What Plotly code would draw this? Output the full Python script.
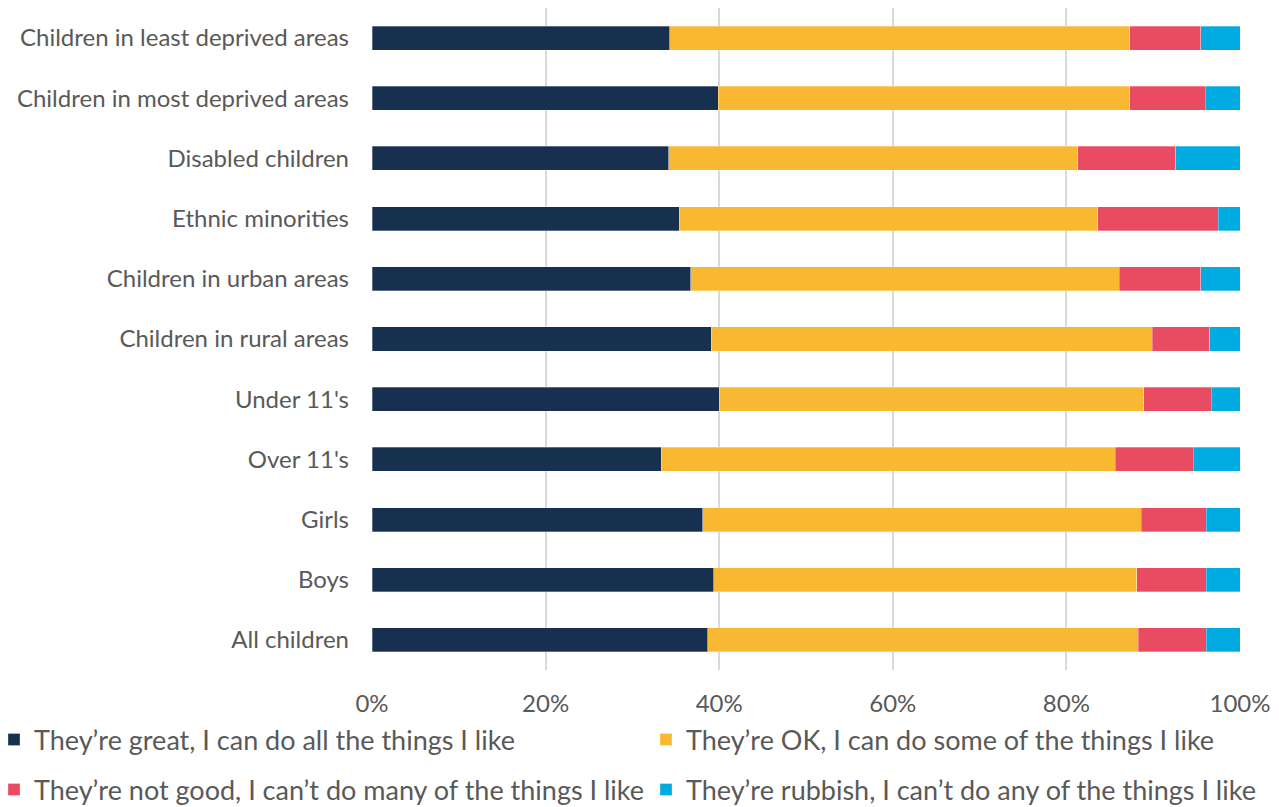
import plotly.graph_objects as go

categories = [
    "Children in least deprived areas",
    "Children in most deprived areas",
    "Disabled children",
    "Ethnic minorities",
    "Children in urban areas",
    "Children in rural areas",
    "Under 11's",
    "Over 11's",
    "Girls",
    "Boys",
    "All children",
]

great = [34.3, 39.9, 34.2, 35.4, 36.7, 39.1, 40.0, 33.3, 38.1, 39.4, 38.7]
ok = [53.0, 47.4, 47.1, 48.2, 49.4, 50.8, 48.9, 52.3, 50.5, 48.7, 49.6]
not_good = [8.2, 8.7, 11.3, 13.9, 9.4, 6.6, 7.8, 9.0, 7.5, 8.0, 7.8]
rubbish = [4.5, 4.0, 7.4, 2.5, 4.5, 3.5, 3.3, 5.4, 3.9, 3.9, 3.9]

series_names = [
    "They’re great, I can do all the things I like",
    "They’re OK, I can do some of the things I like",
    "They’re not good, I can’t do many of the things I like",
    "They’re rubbish, I can’t do any of the things I like",
]
series_values = [great, ok, not_good, rubbish]
colors = ["#17304F", "#F9B832", "#E94B63", "#00ABE1"]
legend_ids = ["legend", "legend2", "legend3", "legend4"]

FONT = "Lato, 'Open Sans', sans-serif"
W, H = 1271, 799
ML, MR, MT, MB = 364, 39, 0, 137
PW = W - ML - MR
PH = H - MT - MB

fig = go.Figure()
for name, vals, col, lg in zip(series_names, series_values, colors, legend_ids):
    fig.add_trace(go.Bar(
        y=categories, x=vals, name=name, orientation="h",
        marker=dict(color=col, line=dict(color="rgba(255,255,255,0.6)", width=0.5)),
        legend=lg,
    ))

legend_common = dict(
    orientation="h",
    xref="paper", yref="paper",
    xanchor="left", yanchor="middle",
    font=dict(family=FONT, size=27, color="#595959"),
    bgcolor="rgba(0,0,0,0)",
)

# legend box left edges and row centres, in figure pixels
col_left = [-14, 638]
row_mid = [732, 782]

def px_x(v):
    return (v - ML) / PW

def px_y(v):
    return (H - MB - v) / PH

fig.update_layout(
    barmode="stack",
    bargap=0.6,
    width=W, height=H,
    margin=dict(l=ML, r=MR, t=MT, b=MB, autoexpand=False),
    paper_bgcolor="white", plot_bgcolor="white",
    font=dict(family=FONT, size=24, color="#595959"),
    showlegend=True,
    legend=dict(x=px_x(col_left[0]), y=px_y(row_mid[0]), **legend_common),
    legend2=dict(x=px_x(col_left[1]), y=px_y(row_mid[0]), **legend_common),
    legend3=dict(x=px_x(col_left[0]), y=px_y(row_mid[1]), **legend_common),
    legend4=dict(x=px_x(col_left[1]), y=px_y(row_mid[1]), **legend_common),
)
fig.update_xaxes(
    range=[0, 100],
    tickvals=[0, 20, 40, 60, 80, 100],
    ticktext=["0%", "20%", "40%", "60%", "80%", "100%"],
    showgrid=True, gridcolor="#D9D9D9", gridwidth=2,
    zeroline=False, showline=False,
    tickfont=dict(family=FONT, size=24, color="#595959"),
    ticklabelstandoff=17,
    automargin=False,
)
fig.update_yaxes(
    autorange="reversed",
    showgrid=False, zeroline=False, showline=False,
    tickfont=dict(family=FONT, size=24, color="#595959"),
    ticklabelstandoff=22,
    automargin=False,
)

fig.write_html("out.html")
